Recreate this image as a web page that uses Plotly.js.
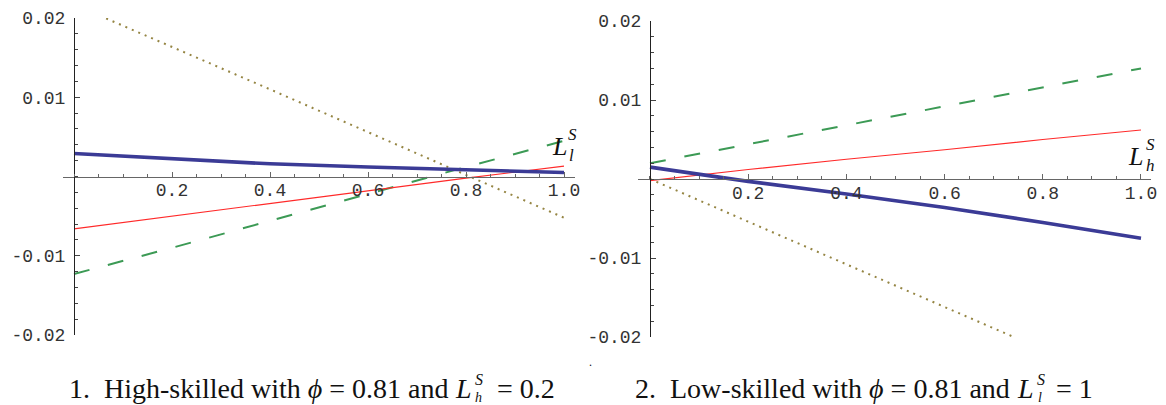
<!DOCTYPE html>
<html>
<head>
<meta charset="utf-8">
<script src="https://cdn.plot.ly/plotly-3.0.1.min.js"></script>
<style>html,body{margin:0;padding:0;background:#fff;}#chart{width:1166px;height:405px;}</style>
</head>
<body>
<div id="chart"></div>
<script>
// ---------- data ----------
var xs = [0, 0.2, 0.4, 0.6, 0.8, 1.0];

// Panel 1: High-skilled
var p1Blue   = [0.0029, 0.0022, 0.0016, 0.0012, 0.0009, 0.0005];
var p1Red    = [-0.0066, -0.0050, -0.0034, -0.0018, -0.0002, 0.0013];
var p1Green  = [-0.0123, -0.0090, -0.0056, -0.0022, 0.0012, 0.0045];
var p1Dotted = [0.0217, 0.0164, 0.0110, 0.0056, 0.0002, -0.0052];

// Panel 2: Low-skilled
var p2Blue   = [0.0015, -0.0003, -0.0019, -0.0036, -0.0055, -0.0075];
var p2Red    = [-0.0002, 0.0012, 0.0025, 0.0037, 0.0050, 0.0062];
var p2Green  = [0.0020, 0.0044, 0.0068, 0.0092, 0.0116, 0.0140];
var p2Dotted = [0.0000, -0.0054, -0.0108, -0.0162, -0.0216, -0.0270];

var xTickVals = [0.2, 0.4, 0.6, 0.8, 1.0];
var xTickText = ["0.2", "0.4", "0.6", "0.8", "1.0"];
var yTickVals = [-0.02, -0.01, 0.01, 0.02];
var yTickText = ["-0.02", "-0.01", "0.01", "0.02"];

// ---------- layout helpers ----------
var W = 1166, H = 405;
function px(x) { return x / W; }
function py(y) { return 1 - y / H; }

var blue = '#3b3b96', red = '#ff2a2a', green = '#3c9a55', olive = '#958543';

function mk(y, xa, ya, color, width, dash) {
  return {x: xs, y: y, xaxis: xa, yaxis: ya, mode: 'lines', type: 'scatter',
          line: {color: color, width: width, dash: dash}, hoverinfo: 'skip', showlegend: false};
}

var traces = [
  mk(p1Dotted, 'x', 'y', olive, 2, '2px,5px'),
  mk(p1Green, 'x', 'y', green, 2, '16px,19px'),
  mk(p1Red, 'x', 'y', red, 1.2, 'solid'),
  mk(p1Blue, 'x', 'y', blue, 3.6, 'solid'),
  mk(p2Dotted, 'x2', 'y2', olive, 2, '2px,5px'),
  mk(p2Green, 'x2', 'y2', green, 2, '16px,19px'),
  mk(p2Red, 'x2', 'y2', red, 1.2, 'solid'),
  mk(p2Blue, 'x2', 'y2', blue, 3.6, 'solid')
];

// panel geometry (pixels)
var P1 = {x0: 74, sx: 490, xmin: -0.022, xmax: 1.022, top: 18, bot: 335};
var P2 = {x0: 650, sx: 491, xmin: -0.024, xmax: 1.02, top: 21, bot: 337};

var tickFont = {family: 'Liberation Mono, monospace', size: 18, color: '#333'};

function xAxis(P) {
  var yMid = (P.top + P.bot) / 2;
  return {
    domain: [px(P.x0 + P.xmin * P.sx), px(P.x0 + P.xmax * P.sx)],
    range: [P.xmin, P.xmax], anchor: 'free', position: py(yMid),
    showline: true, linecolor: '#666', linewidth: 1.2,
    showgrid: false, zeroline: false,
    ticks: 'inside', ticklen: 5, tickcolor: '#666', tickwidth: 1,
    tickmode: 'array', tickvals: xTickVals, ticktext: xTickText,
    tickfont: tickFont, ticklabelstandoff: -3,
    minor: {tickmode: 'linear', tick0: 0, dtick: 0.05, ticks: 'inside', ticklen: 3, tickcolor: '#666', showgrid: false},
    fixedrange: true
  };
}
function yAxis(P) {
  return {
    domain: [py(P.bot), py(P.top)],
    range: [-0.02, 0.02], anchor: 'free', position: px(P.x0),
    showline: true, linecolor: '#222', linewidth: 1.2,
    showgrid: false, zeroline: false,
    ticks: 'inside', ticklen: 5, tickcolor: '#444', tickwidth: 1,
    tickmode: 'array', tickvals: yTickVals, ticktext: yTickText,
    tickfont: tickFont, ticklabelstandoff: 5,
    minor: {tickmode: 'linear', tick0: 0, dtick: 0.002, ticks: 'inside', ticklen: 3, tickcolor: '#444', showgrid: false},
    fixedrange: true
  };
}

var serif = 'Liberation Serif, DejaVu Serif, serif';
function ann(text, x, y, size, xanchor, yanchor) {
  return {text: text, xref: 'paper', yref: 'paper', x: px(x), y: py(y), showarrow: false,
          xanchor: xanchor || 'left', yanchor: yanchor || 'middle',
          font: {family: serif, size: size, color: '#111'}, borderpad: 0};
}

var capY = 388;
var capSize = 28;
var annotations = [
  // axis labels
  ann('<i>L</i>', 551, 146, 26, 'left'),
  ann('<i>S</i>', 567, 145, 17, 'left', 'bottom'),
  ann('<i>l</i>', 568, 145, 17, 'left', 'top'),
  ann('<i>L</i>', 1127, 156, 26, 'left'),
  ann('<i>S</i>', 1145, 155, 17, 'left', 'bottom'),
  ann('<i>h</i>', 1145, 155, 17, 'left', 'top'),
  // caption 1
  ann('1.  High-skilled with <i>ϕ</i> = 0.81 and', 449, capY, capSize, 'right'),
  ann('<i>L</i>', 454, capY, capSize, 'left'),
  ann('<i>S</i>', 474, 389, 16, 'left', 'bottom'),
  ann('<i>h</i>', 474, 389, 14, 'left', 'top'),
  ann('= 0.2', 496, capY, capSize, 'left'),
  // caption 2
  ann('2.  Low-skilled with <i>ϕ</i> = 0.81 and', 1011, capY, capSize, 'right'),
  ann('<i>L</i>', 1016, capY, capSize, 'left'),
  ann('<i>S</i>', 1036, 389, 16, 'left', 'bottom'),
  ann('<i>l</i>', 1037, 389, 14, 'left', 'top'),
  ann('= 1', 1055, capY, capSize, 'left'),
  // stray dot
  ann('.', 590, 362, 12, 'center')
];

var layout = {
  width: W, height: H,
  margin: {l: 0, r: 0, t: 0, b: 0},
  paper_bgcolor: '#fff', plot_bgcolor: 'rgba(0,0,0,0)',
  showlegend: false,
  xaxis: xAxis(P1), yaxis: yAxis(P1),
  xaxis2: xAxis(P2), yaxis2: yAxis(P2),
  annotations: annotations
};

Plotly.newPlot('chart', traces, layout, {displayModeBar: false, staticPlot: true});
</script>
</body>
</html>
